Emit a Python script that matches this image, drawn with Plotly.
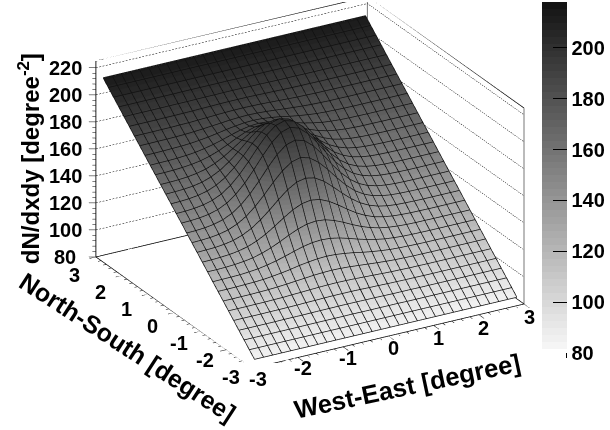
import plotly.graph_objects as go

x_nodes = [-2.9,-2.7,-2.5,-2.3,-2.1,-1.9,-1.7,-1.5,-1.3,-1.1,-0.9,-0.7,-0.5,-0.3,-0.1,0.1,0.3,0.5,0.7,0.9,1.1,1.3,1.5,1.7,1.9,2.1,2.3,2.5,2.7,2.9]
y_nodes = list(x_nodes)
z_rows = [
[84.1]*30,
[88.5]*30,
[93.0,93.0,93.0,93.0,93.0,93.0,93.0,93.1,93.1,93.1,93.1,93.1,93.2,93.1,93.1,93.1,93.1,93.1,93.0,93.0,93.0,93.0,93.0,93.0,93.0,93.0,93.0,93.0,93.0,93.0],
[97.4,97.4,97.4,97.4,97.4,97.5,97.5,97.5,97.6,97.7,97.7,97.8,97.8,97.8,97.7,97.7,97.6,97.5,97.5,97.5,97.4,97.4,97.4,97.4,97.4,97.4,97.4,97.4,97.4,97.4],
[101.9,101.9,101.9,101.9,102.0,102.0,102.1,102.2,102.4,102.5,102.7,102.8,102.8,102.8,102.7,102.5,102.4,102.2,102.1,102.0,102.0,101.9,101.9,101.9,101.9,101.9,101.9,101.9,101.9,101.9],
[106.3,106.3,106.3,106.4,106.4,106.6,106.7,107.0,107.3,107.6,107.9,108.1,108.2,108.1,107.9,107.6,107.3,107.0,106.7,106.6,106.4,106.4,106.3,106.3,106.3,106.3,106.3,106.3,106.3,106.3],
[110.8,110.8,110.9,110.9,111.1,111.3,111.7,112.2,112.8,113.4,114.0,114.4,114.6,114.4,114.0,113.4,112.8,112.2,111.7,111.3,111.1,110.9,110.9,110.8,110.8,110.8,110.8,110.8,110.8,110.8],
[115.2,115.2,115.3,115.5,115.7,116.1,116.8,117.7,118.8,120.1,121.1,121.9,122.2,121.9,121.1,120.1,118.8,117.7,116.8,116.1,115.7,115.5,115.3,115.2,115.2,115.2,115.2,115.2,115.2,115.2],
[119.6,119.7,119.8,120.0,120.5,121.2,122.4,123.9,125.8,127.9,129.8,131.1,131.6,131.1,129.8,127.9,125.8,123.9,122.4,121.2,120.5,120.0,119.8,119.7,119.6,119.6,119.6,119.6,119.6,119.6],
[124.2,124.2,124.4,124.8,125.5,126.6,128.4,130.8,133.8,137.1,140.0,142.1,142.8,142.1,140.0,137.1,133.8,130.8,128.4,126.6,125.5,124.8,124.4,124.2,124.2,124.1,124.1,124.1,124.1,124.1],
[128.6,128.7,129.0,129.5,130.5,132.1,134.7,138.2,142.5,147.2,151.4,154.4,155.5,154.4,151.4,147.2,142.5,138.2,134.7,132.1,130.5,129.5,129.0,128.7,128.6,128.5,128.5,128.5,128.5,128.5],
[133.1,133.3,133.6,134.3,135.6,137.9,141.3,146.0,151.7,157.9,163.6,167.6,169.0,167.6,163.6,157.9,151.7,146.0,141.3,137.9,135.6,134.3,133.6,133.3,133.1,133.0,133.0,133.0,133.0,133.0],
[137.5,137.7,138.1,139.0,140.6,143.4,147.5,153.3,160.3,168.0,174.8,179.7,181.5,179.7,174.8,168.0,160.3,153.3,147.5,143.4,140.6,139.0,138.1,137.7,137.5,137.4,137.4,137.4,137.4,137.4],
[141.9,142.1,142.6,143.6,145.4,148.5,153.3,159.8,167.7,176.4,184.2,189.7,191.7,189.7,184.2,176.4,167.7,159.8,153.3,148.5,145.4,143.6,142.6,142.1,141.9,141.8,141.8,141.8,141.8,141.8],
[146.5,146.7,147.2,148.2,150.1,153.3,158.3,165.0,173.3,182.3,190.4,196.2,198.3,196.2,190.4,182.3,173.3,165.0,158.3,153.3,150.1,148.2,147.2,146.7,146.5,146.3,146.3,146.3,146.3,146.3],
[150.8,151.0,151.5,152.5,154.3,157.4,162.2,168.7,176.6,185.3,193.1,198.6,200.6,198.6,193.1,185.3,176.6,168.7,162.2,157.4,154.3,152.5,151.5,151.0,150.8,150.7,150.7,150.7,150.7,150.7],
[155.3,155.5,155.9,156.8,158.4,161.2,165.3,171.1,178.1,185.8,192.6,197.5,199.3,197.5,192.6,185.8,178.1,171.1,165.3,161.2,158.4,156.8,155.9,155.5,155.3,155.2,155.2,155.2,155.2,155.2],
[159.7,159.9,160.2,160.9,162.2,164.5,167.9,172.6,178.3,184.5,190.2,194.2,195.6,194.2,190.2,184.5,178.3,172.6,167.9,164.5,162.2,160.9,160.2,159.9,159.7,159.6,159.6,159.6,159.6,159.6],
[164.1,164.2,164.5,165.0,166.0,167.6,170.2,173.7,178.0,182.7,186.9,189.9,191.0,189.9,186.9,182.7,178.0,173.7,170.2,167.6,166.0,165.0,164.5,164.2,164.1,164.0,164.0,164.0,164.0,164.0],
[168.6,168.6,168.8,169.2,169.9,171.0,172.8,175.2,178.2,181.5,184.4,186.5,187.2,186.5,184.4,181.5,178.2,175.2,172.8,171.0,169.9,169.2,168.8,168.6,168.6,168.5,168.5,168.5,168.5,168.5],
[172.9,173.0,173.1,173.3,173.8,174.5,175.7,177.2,179.1,181.2,183.1,184.4,184.9,184.4,183.1,181.2,179.1,177.2,175.7,174.5,173.8,173.3,173.1,173.0,172.9,172.9,172.9,172.9,172.9,172.9],
[177.4,177.4,177.5,177.7,177.9,178.3,179.0,179.9,181.0,182.3,183.3,184.1,184.4,184.1,183.3,182.3,181.0,179.9,179.0,178.3,177.9,177.7,177.5,177.4,177.4,177.4,177.4,177.4,177.4,177.4],
[181.8,181.8,181.9,181.9,182.1,182.3,182.7,183.2,183.8,184.4,185.0,185.4,185.6,185.4,185.0,184.4,183.8,183.2,182.7,182.3,182.1,181.9,181.9,181.8,181.8,181.8,181.8,181.8,181.8,181.8],
[186.2,186.2,186.2,186.3,186.3,186.5,186.6,186.9,187.2,187.5,187.8,188.0,188.1,188.0,187.8,187.5,187.2,186.9,186.6,186.5,186.3,186.3,186.2,186.2,186.2,186.2,186.2,186.2,186.2,186.2],
[190.7,190.7,190.7,190.7,190.8,190.8,190.9,191.0,191.2,191.3,191.5,191.6,191.6,191.6,191.5,191.3,191.2,191.0,190.9,190.8,190.8,190.7,190.7,190.7,190.7,190.7,190.7,190.7,190.7,190.7],
[195.1,195.1,195.1,195.1,195.1,195.2,195.2,195.2,195.3,195.4,195.4,195.5,195.5,195.5,195.4,195.4,195.3,195.2,195.2,195.2,195.1,195.1,195.1,195.1,195.1,195.1,195.1,195.1,195.1,195.1],
[199.6,199.6,199.6,199.6,199.6,199.6,199.6,199.7,199.7,199.7,199.7,199.7,199.8,199.7,199.7,199.7,199.7,199.7,199.6,199.6,199.6,199.6,199.6,199.6,199.6,199.6,199.6,199.6,199.6,199.6],
[204.0]*30,
[208.4]*30,
[212.9]*30,
]
x_ticks = [-3,-2,-1,0,1,2,3]
y_ticks = [3,2,1,0,-1,-2,-3]
z_ticks = [80,100,120,140,160,180,200,220]
bar_ticks = [80,100,120,140,160,180,200]
XMIN, XMAX, ZMIN, ZTOP = -3, 3, 80, 225
CMIN, CMAX = 80, 218
FONT = "Liberation Sans"

n = 50
colorscale = [[0, "#ffffff"], [0.012, "#ffffff"]]
for i in range(n):
    g = round(245 - 225 * i / (n - 1))
    a = 0.012 + (1 - 0.012) * i / n
    b = 0.012 + (1 - 0.012) * (i + 1) / n
    c = f"rgb({g},{g},{g})"
    colorscale += [[a, c], [b, c]]

fig = go.Figure()
fig.add_trace(go.Surface(
    x=x_nodes, y=y_nodes, z=z_rows, cmin=CMIN, cmax=CMAX, colorscale=colorscale,
    lighting=dict(ambient=1, diffuse=0, specular=0, fresnel=0, roughness=1),
    hoverinfo="skip",
    colorbar=dict(
        thickness=25, thicknessmode="pixels", len=351/430, lenmode="fraction",
        x=542/610, xanchor="left", xpad=0, y=1-2/430, yanchor="top", ypad=0,
        outlinewidth=0, ticks="inside", ticklen=14, tickwidth=1, tickcolor="black",
        tickmode="array", tickvals=bar_ticks, ticktext=[str(v) for v in bar_ticks],
        tickfont=dict(family=FONT, size=20, color="black", weight=700),
    ),
))

def seg(pairs, color, width):
    xs, ys, zs = [], [], []
    for p, q in pairs:
        xs += [p[0], q[0], None]; ys += [p[1], q[1], None]; zs += [p[2], q[2], None]
    fig.add_trace(go.Scatter3d(x=xs, y=ys, z=zs, mode="lines", showlegend=False, hoverinfo="skip",
                               line=dict(color=color, width=width)))

# surface mesh lines, sitting just above the surface
LIFT = 0.3
mesh_x, mesh_y, mesh_z = [], [], []
for j, yv in enumerate(y_nodes):
    mesh_x += x_nodes + [None]
    mesh_y += [yv] * 30 + [None]
    mesh_z += [v + LIFT for v in z_rows[j]] + [None]
for i, xv in enumerate(x_nodes):
    mesh_x += [xv] * 30 + [None]
    mesh_y += y_nodes + [None]
    mesh_z += [row[i] + LIFT for row in z_rows] + [None]
fig.add_trace(go.Scatter3d(x=mesh_x, y=mesh_y, z=mesh_z, mode="lines", showlegend=False,
                           hoverinfo="skip", line=dict(color="#111111", width=1.5)))

# dotted z grid on the two back walls
grid = []
steps = 82
for v in z_ticks:
    for i in range(steps):
        a = XMIN + (XMAX - XMIN) * i / steps
        b = a + 0.04
        grid.append(((a, XMAX, v), (b, XMAX, v)))
        grid.append(((XMAX, -a, v), (XMAX, -b, v)))
seg(grid, "#000000", 1)
# box outline
seg([((XMIN,XMIN,ZMIN),(XMAX,XMIN,ZMIN)), ((XMIN,XMIN,ZMIN),(XMIN,XMAX,ZMIN)),
     ((XMIN,XMAX,ZTOP),(XMAX,XMAX,ZTOP)),
     ((XMAX,XMAX,ZTOP),(XMAX,XMIN,ZTOP)), ((XMIN,XMAX,ZMIN),(XMAX,XMAX,ZMIN)),
     ((XMAX,XMAX,ZMIN),(XMAX,XMIN,ZMIN))], "black", 1.5)
seg([((XMAX,XMIN,ZMIN),(XMAX,XMIN,ZTOP)), ((XMAX,XMAX,ZMIN),(XMAX,XMAX,ZTOP))], "#777777", 2)
seg([((XMIN,XMAX,ZMIN),(XMIN,XMAX,ZTOP))], "#222222", 2)

# tick marks
ticks = []
for i in range(31):
    v = XMIN + i * 0.2
    major = i % 5 == 0
    ticks.append(((v, XMIN, ZMIN), (v, XMIN - (0.2 if major else 0.1), ZMIN)))
    ticks.append(((XMIN, v, ZMIN), (XMIN - (0.14 if major else 0.07), v, ZMIN)))
for i in range(0, 36):
    v = 80 + i * 4
    major = i % 5 == 0
    f = 1 if major else 0.5
    ticks.append(((XMIN, XMAX, v), (XMIN - 0.117 * f, XMAX + 0.066 * f, v)))
seg(ticks, "black", 1)

def label(x, y, z, text, dx, dy, size=20, angle=0):
    return dict(x=x, y=y, z=z, text=text, showarrow=False, xshift=dx, yshift=dy, textangle=angle,
                xanchor="center", yanchor="middle",
                font=dict(family=FONT, size=size, color="black", weight=700))

notes = []
for v in x_ticks:
    notes.append(label(v, XMIN, ZMIN, str(v), 5, -12 - 0.5 * v))
for v in y_ticks:
    notes.append(label(XMIN, v, ZMIN, str(v), -22, -13.5 - 5 * v / 3))
for v in z_ticks:
    notes.append(label(XMIN, XMAX, v, str(v), -31, 0))
notes.append(label(0, XMIN, ZMIN, "West-East [degree]", 19, -50, 25.5, -12))
notes.append(label(XMIN, 0, ZMIN, "North-South [degree]", -47, -34.5, 25, 33))
notes.append(label(XMIN, XMAX, 150, "dN/dxdy [degree<sup>-2</sup>]", -67, 3.5, 24, -90))

axis = dict(visible=False, autorange=False)
k = 3.0
fig.update_layout(
    width=610, height=430, margin=dict(l=0, r=0, t=0, b=0, autoexpand=False),
    paper_bgcolor="white", showlegend=False,
    scene=dict(
        domain=dict(x=[0.017, 1], y=[0.156, 0.995]),
        xaxis=dict(axis, range=[-3.3, 3.3]),
        yaxis=dict(axis, range=[-3.3, 3.3]),
        zaxis=dict(axis, range=[ZMIN, ZTOP]),
        aspectmode="manual", aspectratio=dict(x=1.91, y=1.91, z=1.19),
        camera=dict(eye=dict(x=-0.456*k, y=-0.79*k, z=0.41*k), up=dict(x=0, y=0, z=1),
                    center=dict(x=0, y=0, z=0), projection=dict(type="orthographic")),
        annotations=notes,
    ),
    shapes=[dict(type="line", xref="paper", yref="paper", x0=566.5/610, x1=566.5/610,
                 y0=1-2/430, y1=1-358/430, line=dict(color="black", width=1))],
)
fig.write_html("out.html", post_script="document.body.style.margin='0';", config=dict(displayModeBar=False))
